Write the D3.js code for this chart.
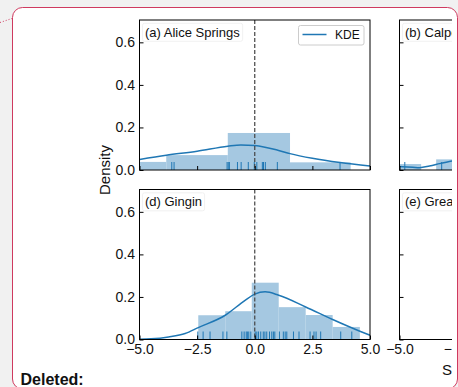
<!DOCTYPE html>
<html>
<head>
<meta charset="utf-8">
<script src="https://cdn.jsdelivr.net/npm/d3@7"></script>
<style>
  body { margin: 0; background: #f1f1f1; }
  svg { display: block; font-family: "Liberation Sans", Arial, Helvetica, sans-serif; }
</style>
</head>
<body>
<svg id="chart" width="458" height="387"></svg>
<script>
// values
var xTicks = [-5, -2.5, 0, 2.5, 5];
var yTicks = [0, 0.2, 0.4, 0.6];
var panelTitles = ["(a) Alice Springs", "(b) Calperum", "(d) Gingin", "(e) Great Western Woodlands"];

var aliceEdges = [-6.52, -3.84, -1.17, 1.53, 4.16];
var aliceDensity = [0.038, 0.070, 0.174, 0.036];
var aliceRug = [-3.6, -3.5, -1.2, -1.15, -1.1, -0.75, -0.59, -0.28, -0.02, 0.09, 0.33, 0.38, 0.46, 0.98, 3.7];
var aliceKdeX = [-5, -3.84, -2.5, -1.17, -0.6, 0, 1, 1.53, 2.5, 3.7, 5];
var aliceKdeY = [0.049, 0.069, 0.088, 0.112, 0.118, 0.115, 0.093, 0.077, 0.055, 0.035, 0.019];

var calpEdges = [-5.36, -4.06, -3.41, -2.11];
var calpDensity = [0.028, 0, 0.05];
var calpRug = [-4.77, -3.17];
var calpKdeX = [-5, -4.43, -4.13, -3.7, -3.26, -2.48, -2.2];
var calpKdeY = [0.016, 0.013, 0.011, 0.019, 0.030, 0.049, 0.057];

var ginginEdges = [-2.45, -1.28, -0.13, 1.04, 2.21, 3.38, 4.56];
var ginginDensity = [0.114, 0.133, 0.267, 0.152, 0.115, 0.059];
var ginginRug = [-2.47, -2.24, -1.94, -1.38, -1.21, -0.56, -0.46, -0.37, -0.32, -0.26, -0.17,
  0.02, 0.09, 0.16, 0.26, 0.37, 0.44, 0.52, 0.64, 0.74, 0.81, 0.87, 1.07, 1.24, 1.32, 1.39,
  1.68, 1.92, 2.4, 2.57, 2.66, 2.86, 3.73, 4.21];
var ginginKdeX = [-5, -4.5, -3.74, -3.02, -2.45, -1.28, -0.42, 0, 0.45, 1.04, 2.21, 3.38, 4.56, 5];
var ginginKdeY = [0.001, 0.003, 0.012, 0.028, 0.056, 0.114, 0.184, 0.213, 0.224, 0.208, 0.153, 0.094, 0.039, 0.02];

var greatEdges = [];
var greatDensity = [];
var greatRug = [];
var greatKdeX = [];
var greatKdeY = [];

var panels = [
  { title: panelTitles[0], col: 0, row: 0, edges: aliceEdges, dens: aliceDensity, rug: aliceRug, kx: aliceKdeX, ky: aliceKdeY, legend: true },
  { title: panelTitles[1], col: 1, row: 0, edges: calpEdges, dens: calpDensity, rug: calpRug, kx: calpKdeX, ky: calpKdeY },
  { title: panelTitles[2], col: 0, row: 1, edges: ginginEdges, dens: ginginDensity, rug: ginginRug, kx: ginginKdeX, ky: ginginKdeY },
  { title: panelTitles[3], col: 1, row: 1, edges: greatEdges, dens: greatDensity, rug: greatRug, kx: greatKdeX, ky: greatKdeY }
];

var colLeft = [139.5, 399.5];
var rowTop = [20, 189.5];
var pw = 230.5, ph = 150;
var blue = "#1f77b4";
var border = "#cf3a5f";

var svg = d3.select("#chart");

// document comment box
svg.append("rect").attr("width", 458).attr("height", 387).attr("fill", "#f1f1f1");
svg.append("rect")
  .attr("x", 12.5).attr("y", 7.5).attr("width", 445).attr("height", 381.5).attr("rx", 10)
  .attr("fill", "#fff").attr("stroke", border).attr("stroke-width", 1);
svg.append("line")
  .attr("x1", 0).attr("y1", 22.5).attr("x2", 12).attr("y2", 18.5)
  .attr("stroke", border).attr("stroke-width", 1).attr("stroke-dasharray", "1,2");
svg.append("text").attr("x", 20.5).attr("y", 384.5)
  .attr("font-size", 16).attr("font-weight", "bold").attr("fill", "#111").text("Deleted:");

// the figure image is cut at the box's inner right edge
svg.append("clipPath").attr("id", "figclip")
  .append("rect").attr("x", 0).attr("y", 0).attr("width", 452).attr("height", 387);
var fig = svg.append("g").attr("clip-path", "url(#figclip)");

panels.forEach(function(p, i) {
  var left = colLeft[p.col], top = rowTop[p.row];
  var x = d3.scaleLinear().domain([-5, 5]).range([left, left + pw]);
  var y = d3.scaleLinear().domain([0, 0.705]).range([top + ph, top]);
  var g = fig.append("g");

  var clipId = "clip" + i;
  svg.append("clipPath").attr("id", clipId)
    .append("rect").attr("x", left).attr("y", top).attr("width", pw).attr("height", ph);
  var plot = g.append("g").attr("clip-path", "url(#" + clipId + ")");

  var bins = p.dens.map(function(d, k) { return { x0: p.edges[k], x1: p.edges[k + 1], d: d }; });
  plot.selectAll("rect.bar").data(bins).enter().append("rect")
    .attr("class", "bar")
    .attr("x", function(b) { return x(b.x0); })
    .attr("width", function(b) { return x(b.x1) - x(b.x0); })
    .attr("y", function(b) { return y(b.d); })
    .attr("height", function(b) { return y(0) - y(b.d); })
    .attr("fill", "#a5c8e1");

  var kde = p.kx.map(function(v, k) { return [v, p.ky[k]]; });
  if (kde.length) {
    plot.append("path").datum(kde)
      .attr("d", d3.line().x(function(d) { return x(d[0]); }).y(function(d) { return y(d[1]); })
        .curve(d3.curveMonotoneX))
      .attr("fill", "none").attr("stroke", blue).attr("stroke-width", 1.5);
  }

  plot.selectAll("line.rug").data(p.rug).enter().append("line")
    .attr("class", "rug")
    .attr("x1", function(d) { return x(d); }).attr("x2", function(d) { return x(d); })
    .attr("y1", y(0)).attr("y2", y(0) - 8)
    .attr("stroke", blue).attr("stroke-width", 1);

  g.append("line")
    .attr("x1", x(0)).attr("x2", x(0)).attr("y1", top).attr("y2", top + ph)
    .attr("stroke", "#444").attr("stroke-width", 1.2).attr("stroke-dasharray", "4,2");

  // title with a faint box
  var t = g.append("text").attr("x", left + 5.5).attr("y", top + 16.8)
    .attr("font-size", 13).attr("fill", "#111").text(p.title);
  var bb = t.node().getBBox();
  g.insert("rect", "text")
    .attr("x", bb.x - 2.5).attr("y", bb.y - 1.5).attr("width", bb.width + 5).attr("height", bb.height + 3)
    .attr("rx", 2).attr("fill", "#fff").attr("fill-opacity", 0.8)
    .attr("stroke", "#eeeeee").attr("stroke-width", 0.8);

  // axes, ticks pointing in
  var yAxis = d3.axisLeft(y).tickValues(yTicks).tickSize(-4).tickPadding(4.5)
    .tickFormat(p.col === 0 ? d3.format(".1f") : "");
  var xAxis = d3.axisBottom(x).tickValues(xTicks).tickSize(-4).tickPadding(4.5)
    .tickFormat(p.row === 1 ? d3.format(".1f") : "");
  var ya = g.append("g").attr("transform", "translate(" + left + ",0)").call(yAxis);
  var xa = g.append("g").attr("transform", "translate(0," + (top + ph) + ")").call(xAxis);
  [ya, xa].forEach(function(a) {
    a.select(".domain").remove();
    a.selectAll("text").attr("font-size", 14).attr("fill", "#111")
      .attr("font-family", "'Liberation Sans', Arial, sans-serif");
    a.selectAll("line").attr("stroke", "#000");
  });

  g.append("rect").attr("x", left).attr("y", top).attr("width", pw).attr("height", ph)
    .attr("fill", "none").attr("stroke", "#000").attr("stroke-width", 1);

  if (p.legend) {
    var lg = g.append("g");
    lg.append("rect").attr("x", 298.5).attr("y", 25.5).attr("width", 65.5).attr("height", 19.5)
      .attr("rx", 2).attr("fill", "#fff").attr("fill-opacity", 0.8)
      .attr("stroke", "#cccccc").attr("stroke-width", 1);
    lg.append("line").attr("x1", 302.5).attr("x2", 326.5).attr("y1", 34.5).attr("y2", 34.5)
      .attr("stroke", blue).attr("stroke-width", 1.5);
    lg.append("text").attr("x", 335).attr("y", 39).attr("font-size", 12).attr("fill", "#111").text("KDE");
  }
});

// shared axis labels
fig.append("text")
  .attr("transform", "translate(109.5,170) rotate(-90)")
  .attr("text-anchor", "middle").attr("font-size", 15).attr("fill", "#111").text("Density");
fig.append("text").attr("x", 442).attr("y", 375)
  .attr("font-size", 15).attr("fill", "#111").text("Standardised residual");
</script>
</body>
</html>
